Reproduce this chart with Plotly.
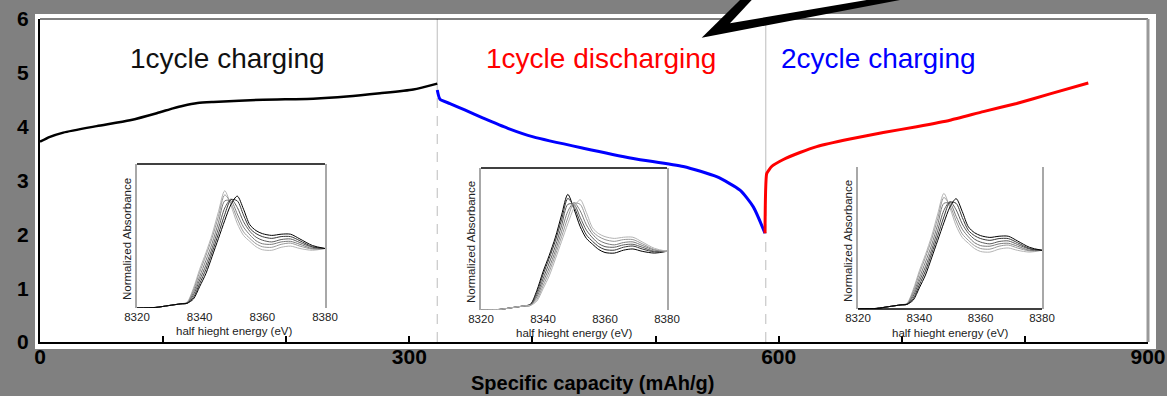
import plotly.graph_objects as go

# ---------------- data ----------------
charge1_x = [0, 8.1, 18.9, 46.1, 73.1, 94.8, 108.0, 116.4, 128.0, 140.8, 181.4, 222.0, 249.1, 276.2, 303.2, 322.7]
charge1_y = [3.72, 3.81, 3.89, 4.01, 4.12, 4.25, 4.34, 4.39, 4.44, 4.46, 4.50, 4.52, 4.56, 4.62, 4.69, 4.80]

discharge1_x = [322.7, 324.9, 333.0, 345.0, 360.0, 380.0, 400.7, 441.3, 481.9, 522.5, 549.6, 568.6, 579.4, 588.9]
discharge1_y = [4.68, 4.51, 4.43, 4.31, 4.16, 3.97, 3.81, 3.60, 3.41, 3.26, 3.07, 2.82, 2.51, 2.02]

charge2_x = [588.9, 590.3, 594.3, 603.8, 617.3, 630.9, 657.9, 685.0, 712.1, 739.2, 766.2, 793.3, 820.4, 851.5]
charge2_y = [2.02, 3.13, 3.26, 3.39, 3.52, 3.63, 3.77, 3.89, 4.00, 4.12, 4.28, 4.43, 4.61, 4.81]

separator_x = [322.7, 589.5]
separator_curve_y = [4.80, 3.13]

phase_labels = ["1cycle charging", "1cycle discharging", "2cycle charging"]

x_tick_vals = [0, 300, 600, 900]
y_tick_vals = [0, 1, 2, 3, 4, 5, 6]

# inset XANES spectra (normalized absorbance)
energy = [8320, 8326, 8330, 8334, 8336, 8338, 8340, 8342, 8344, 8346, 8348, 8350,
          8352, 8354, 8356, 8358, 8360, 8363, 8366, 8369, 8372, 8376, 8380]
spec_a = [0.00, 0.01, 0.04, 0.07, 0.10, 0.33, 0.65, 0.93, 1.24, 1.62, 1.97, 1.72,
          1.42, 1.22, 1.12, 1.03, 0.98, 0.97, 1.02, 1.04, 1.00, 0.97, 1.00]
spec_b = [0.00, 0.01, 0.04, 0.07, 0.09, 0.30, 0.60, 0.88, 1.18, 1.54, 1.90, 1.76,
          1.50, 1.28, 1.17, 1.08, 1.03, 1.02, 1.07, 1.09, 1.04, 0.99, 1.00]
spec_c = [0.00, 0.01, 0.04, 0.07, 0.08, 0.26, 0.53, 0.80, 1.09, 1.44, 1.80, 1.80,
          1.58, 1.36, 1.23, 1.13, 1.08, 1.07, 1.11, 1.12, 1.07, 1.00, 1.00]
spec_d = [0.00, 0.01, 0.04, 0.07, 0.08, 0.22, 0.47, 0.72, 1.01, 1.34, 1.68, 1.83,
          1.69, 1.45, 1.29, 1.19, 1.14, 1.11, 1.15, 1.16, 1.10, 1.02, 1.00]
spec_e = [0.00, 0.01, 0.04, 0.07, 0.08, 0.18, 0.41, 0.65, 0.94, 1.25, 1.57, 1.82,
          1.80, 1.56, 1.34, 1.25, 1.20, 1.17, 1.20, 1.20, 1.13, 1.03, 1.00]
spec_f = [0.00, 0.01, 0.04, 0.07, 0.08, 0.15, 0.36, 0.58, 0.87, 1.17, 1.47, 1.74,
          1.88, 1.66, 1.40, 1.30, 1.25, 1.22, 1.24, 1.24, 1.16, 1.05, 1.00]
inset_ticks = [8320, 8340, 8360, 8380]

# ---------------- layout helpers ----------------
W, H = 1167, 396
ML, MR, MT, MB = 40, 19, 19, 54
PW, PH = W - ML - MR, H - MT - MB
FONT = "Liberation Sans, Arial, sans-serif"


def pxx(px):
    return (px - ML) / PW


def pxy(py):
    return (H - MB - py) / PH


fig = go.Figure()

fig.add_trace(go.Scatter(x=charge1_x, y=charge1_y, mode="lines",
                         line=dict(color="black", width=2.5, shape="spline", smoothing=0.6),
                         showlegend=False))
fig.add_trace(go.Scatter(x=discharge1_x, y=discharge1_y, mode="lines",
                         line=dict(color="#0000ff", width=3, shape="spline", smoothing=0.6),
                         showlegend=False))
fig.add_trace(go.Scatter(x=charge2_x, y=charge2_y, mode="lines",
                         line=dict(color="#ff0000", width=3, shape="spline", smoothing=0.4),
                         showlegend=False))

spectra = [spec_a, spec_b, spec_c, spec_d, spec_e, spec_f]
grays = ["#b4b4b4", "#979797", "#7a7a7a", "#5a5a5a", "#363636", "#000000"]
inset_boxes = [(137, 325, 164, 308), (481, 667, 168, 310), (858, 1042, 167, 309)]
inset_color_orders = [grays, grays[::-1], grays]

layout_axes = {}
annotations = []
shapes = []
for k, (box, cols) in enumerate(zip(inset_boxes, inset_color_orders)):
    n = k + 2
    xa, ya = f"x{n}", f"y{n}"
    for s, c in zip(spectra, cols):
        fig.add_trace(go.Scatter(x=energy, y=s, xaxis=xa, yaxis=ya, mode="lines",
                                 line=dict(color=c, width=1, shape="spline", smoothing=0.8),
                                 showlegend=False))
    x0, x1, y0, y1 = box
    layout_axes[f"xaxis{n}"] = dict(
        domain=[pxx(x0), pxx(x1)], anchor=ya, range=[8320, 8380],
        tickmode="array", tickvals=inset_ticks, ticks="", showgrid=False,
        zeroline=False, showline=False, automargin=False,
        tickfont=dict(family=FONT, size=11.5, color="#222"))
    layout_axes[f"yaxis{n}"] = dict(
        domain=[pxy(y1), pxy(y0)], anchor=xa, range=[0, 2.42],
        showticklabels=False, ticks="", showgrid=False, zeroline=False,
        showline=True, linecolor="#a8a8a8", linewidth=2, mirror=True, automargin=False)
    annotations.append(dict(text="half hieght energy (eV)", xref="paper", yref="paper",
                            x=pxx((x0 + x1) / 2 + (3 if k == 0 else 0)), y=pxy(331 if k == 0 else 333),
                            xanchor="center", yanchor="middle", showarrow=False,
                            font=dict(family=FONT, size=11.5, color="#222")))
    annotations.append(dict(text="Normalized Absorbance", xref="paper", yref="paper",
                            x=pxx(x0 - 10), y=pxy((y0 + y1) / 2 + 3), textangle=-90,
                            xanchor="center", yanchor="middle", showarrow=False,
                            font=dict(family=FONT, size=11.5, color="#222")))

# inset frame edges
shapes.append(dict(type="line", xref="x2 domain", yref="y2 domain", x0=0, x1=1, y0=1, y1=1,
                   line=dict(color="black", width=1.5)))
shapes.append(dict(type="line", xref="x3 domain", yref="y3 domain", x0=0, x1=1, y0=1, y1=1,
                   line=dict(color="black", width=1.5)))
shapes.append(dict(type="line", xref="x4 domain", yref="y4 domain", x0=0, x1=1, y0=0, y1=0,
                   line=dict(color="black", width=1.5)))

# white plate behind the plot
shapes.append(dict(type="rect", xref="paper", yref="paper", layer="below",
                   x0=pxx(35), x1=pxx(1156), y0=pxy(349), y1=pxy(14),
                   fillcolor="white", line=dict(width=0)))
# top and right frame lines
shapes.append(dict(type="line", xref="paper", yref="paper", x0=0, x1=1, y0=1, y1=1,
                   line=dict(color="black", width=1.2)))
shapes.append(dict(type="line", xref="paper", yref="paper", x0=1, x1=1, y0=0, y1=1,
                   line=dict(color="#999999", width=3)))

# phase separators: solid above the curve, dashed below
for sx, sy in zip(separator_x, separator_curve_y):
    shapes.append(dict(type="line", xref="x", yref="y", x0=sx, x1=sx, y0=sy, y1=6,
                       line=dict(color="#c8c8c8", width=1.2), layer="below"))
    shapes.append(dict(type="line", xref="x", yref="y", x0=sx, x1=sx, y0=0, y1=sy,
                       line=dict(color="#c8c8c8", width=1.2, dash="10px,8px"), layer="below"))

# lightning callout at the top


def path(points):
    return "M " + " L ".join(f"{pxx(a):.5f},{pxy(b):.5f}" for a, b in points) + " Z"


shapes.append(dict(type="path", xref="paper", yref="paper",
                   path=path([(750.2, -10), (701.7, 37.7), (952.6, -10)]),
                   fillcolor="black", line=dict(width=0)))
shapes.append(dict(type="path", xref="paper", yref="paper",
                   path=path([(761.0, -10), (730.0, 23.3), (925.3, -10)]),
                   fillcolor="white", line=dict(width=0)))

# phase labels
for txt, xv, col in zip(phase_labels, [152.3, 455.3, 680.7], ["#111111", "#ff0000", "#0000ff"]):
    annotations.append(dict(text=txt, x=xv, y=5.27, xref="x", yref="y", showarrow=False,
                            xanchor="center", yanchor="middle",
                            font=dict(family=FONT, size=28, color=col)))

# main x title
annotations.append(dict(text="Specific capacity (mAh/g)", xref="paper", yref="paper",
                        x=pxx(592), y=pxy(383), xanchor="center", yanchor="middle",
                        showarrow=False,
                        font=dict(family=FONT, size=20, color="black", weight="bold")))

fig.update_layout(
    width=W, height=H,
    margin=dict(l=ML, r=MR, t=MT, b=MB, pad=0),
    paper_bgcolor="#808080", plot_bgcolor="white",
    showlegend=False,
    xaxis=dict(range=[0, 900], tickmode="array", tickvals=x_tick_vals,
               ticks="inside", ticklen=6, tickcolor="black", tickwidth=1.5,
               minor=dict(ticks="inside", ticklen=6, tickcolor="black", tickwidth=1.5,
                          tickmode="linear", tick0=0, dtick=100),
               showline=True, linecolor="black", linewidth=2, showgrid=False,
               zeroline=False, automargin=False, ticklabelstandoff=-5,
               tickfont=dict(family=FONT, size=21, color="black", weight="bold")),
    yaxis=dict(range=[0, 6], tickmode="array", tickvals=y_tick_vals, ticks="",
               showline=True, linecolor="black", linewidth=2, showgrid=False,
               zeroline=False, automargin=False, ticklabelstandoff=5,
               tickfont=dict(family=FONT, size=21, color="black", weight="bold")),
    annotations=annotations,
    shapes=shapes,
    **layout_axes,
)

fig.write_html("out.html")
